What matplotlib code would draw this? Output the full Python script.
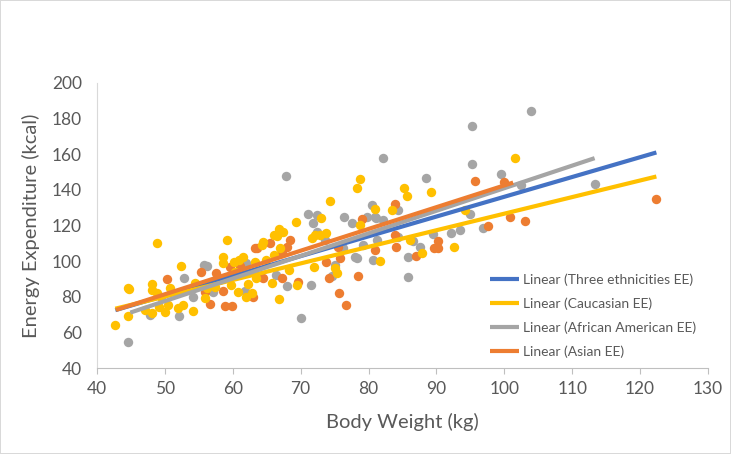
import matplotlib
matplotlib.use("Agg")
import matplotlib.pyplot as plt
import numpy as np

plt.rcParams["font.family"] = ["Lato", "DejaVu Sans"]

# Caucasian (yellow) body weight kg / energy expenditure kcal
cau_w = [48.8, 59.2, 44.5, 44.7, 42.7, 44.5, 48.1, 48.1, 48.8, 47.0, 48.1, 50.8,
         49.5, 49.2, 50.0, 50.5, 52.4, 52.0, 52.7, 54.2, 54.4, 56.2, 55.9, 58.0,
         57.4, 58.5, 58.6, 60.9, 61.5, 60.3, 59.8, 60.8, 62.3, 62.0, 60.2,
         78.7, 78.3, 85.2, 85.7, 74.3, 73.0, 69.3, 80.9, 83.5, 78.7, 66.8, 67.4,
         66.1, 66.5, 64.5, 64.3, 67.0, 72.1, 73.7, 72.8, 71.6, 63.3, 64.9, 66.0,
         81.7, 71.9, 68.3, 75.0, 75.4, 69.4, 65.8, 63.4, 62.8, 66.8,
         101.6, 89.2, 94.2, 92.6, 86.1, 87.9]
cau_ee = [110.1, 111.9, 85.1, 84.4, 64.2, 69.4, 87.0, 83.8, 82.3, 72.6, 70.7, 85.1,
          80.1, 74.4, 71.3, 75.4, 97.3, 73.5, 75.4, 72.2, 87.6, 84.8, 79.2, 89.4,
          85.7, 102.2, 98.8, 100.7, 102.5, 94.1, 86.6, 82.9, 87.0, 80.1, 99.7,
          146.2, 141.0, 141.3, 136.6, 134.0, 124.1, 121.9, 129.1, 128.8, 120.3, 117.9, 116.6,
          114.7, 114.2, 111.0, 109.1, 107.2, 114.7, 115.7, 114.7, 112.9, 99.7, 100.7, 103.5,
          100.3, 96.9, 95.1, 96.0, 93.2, 86.6, 87.6, 90.4, 82.0, 78.8,
          157.8, 139.0, 128.8, 108.1, 111.9, 104.4]

# African American (gray)
afr_w = [44.6, 47.8, 52.8, 52.1, 54.2, 55.7, 56.2, 62.0, 61.8, 57.1,
         67.8, 71.1, 72.4, 71.8, 76.4, 77.5, 79.7, 80.5, 81.1, 84.4, 82.2, 72.4,
         73.6, 76.3, 79.2, 81.3, 85.8, 85.8, 78.0, 78.3, 80.7, 75.1, 74.6, 71.5,
         68.0, 66.4, 70.0, 81.0,
         95.3, 95.2, 99.5, 88.4, 102.4, 96.9, 95.0, 93.5, 92.2, 89.5, 87.6, 86.6, 84.4,
         113.3, 103.9, 82.1]
afr_ee = [54.8, 69.8, 90.7, 69.4, 80.1, 97.9, 97.5, 98.8, 83.3, 82.9,
          148.0, 126.5, 126.0, 121.3, 125.0, 121.3, 125.0, 131.6, 124.1, 128.8, 123.1, 116.6,
          111.9, 107.2, 109.1, 111.9, 102.2, 91.0, 102.2, 101.6, 100.7, 97.9, 91.7, 86.6,
          86.1, 92.2, 67.9, 124.7,
          175.6, 154.6, 149.0, 146.6, 142.8, 118.5, 126.5, 117.5, 116.0, 115.1, 108.1, 111.5, 113.8,
          143.4, 184.0, 158.1]

# Asian (orange)
asi_w = [50.3, 55.3, 55.9, 56.7, 57.5, 58.6, 58.9, 59.9, 59.6, 63.3, 63.0, 61.0,
         79.0, 83.9, 65.5, 68.5, 68.0, 63.5, 67.2, 75.5, 80.9, 84.0, 73.8, 75.8,
         74.2, 78.4, 69.6, 67.2, 64.5, 75.6, 76.7,
         95.7, 99.9, 103.1, 100.8, 97.6, 90.3, 89.7, 90.3, 87.0, 83.9,
         122.4]
asi_ee = [90.0, 93.8, 82.5, 75.8, 93.2, 83.3, 75.0, 75.0, 96.6, 107.2, 80.1, 97.3,
          123.5, 132.0, 110.4, 111.9, 108.1, 107.2, 104.4, 108.1, 106.3, 108.1, 99.7, 101.6,
          90.4, 91.7, 88.5, 90.4, 90.4, 82.0, 75.4,
          145.2, 144.5, 122.8, 125.0, 120.0, 111.5, 107.6, 107.6, 103.1, 114.7,
          134.8]

# Linear trendlines: (x start, x end), (y start, y end)
trend_names = ["Linear (Three ethnicities EE)", "Linear (Caucasian EE)",
               "Linear (African American EE)", "Linear (Asian EE)"]
trend_x = [(42.7, 122.4), (42.7, 122.4), (44.9, 113.3), (42.8, 101.3)]
trend_y = [(72.5, 161.0), (73.3, 147.5), (71.1, 157.8), (72.6, 144.1)]

BLUE, YELLOW, GRAY, ORANGE = "#4472C4", "#FFC000", "#A5A5A5", "#ED7D31"
TXT = "#595959"

fig = plt.figure(figsize=(7.31, 4.54), dpi=100, linewidth=1.2,
                 edgecolor="#D9D9D9")
ax = fig.add_axes([0.1327, 0.1894, 0.8358, 0.6278])

ax.scatter(afr_w, afr_ee, s=46, c=GRAY, linewidths=0, zorder=2)
ax.scatter(asi_w, asi_ee, s=46, c=ORANGE, linewidths=0, zorder=3)
ax.scatter(cau_w, cau_ee, s=46, c=YELLOW, linewidths=0, zorder=4)

for name, xs, ys, col in zip(trend_names, trend_x, trend_y,
                             [BLUE, YELLOW, GRAY, ORANGE]):
    ax.plot(xs, ys, color=col, linewidth=3.0, solid_capstyle="butt",
            zorder=5, label=name)

ax.set_xlim(40, 130)
ax.set_ylim(40, 200)
ax.set_xticks(np.arange(40, 131, 10))
ax.set_yticks(np.arange(40, 201, 20))

for s in ("top", "right"):
    ax.spines[s].set_visible(False)
ax.spines["left"].set_color("#D9D9D9")
ax.spines["bottom"].set_color("#BFBFBF")
ax.tick_params(axis="x", colors="#BFBFBF", length=4, pad=5,
               labelsize=12.5, labelcolor=TXT)
ax.tick_params(axis="y", length=0, pad=11, labelsize=12.5, labelcolor=TXT)

ax.set_xlabel("Body Weight (kg)", fontsize=14.5, color=TXT, labelpad=12)
ax.set_ylabel("Energy Expenditure (kcal)", fontsize=14.5, color=TXT, labelpad=8)

ax.legend(loc="upper left", bbox_to_anchor=(0.622, 0.376), frameon=False,
          fontsize=10, handlelength=2.1, handletextpad=0.3,
          labelspacing=0.82, labelcolor=TXT)

fig.savefig("out.png", dpi=100)
